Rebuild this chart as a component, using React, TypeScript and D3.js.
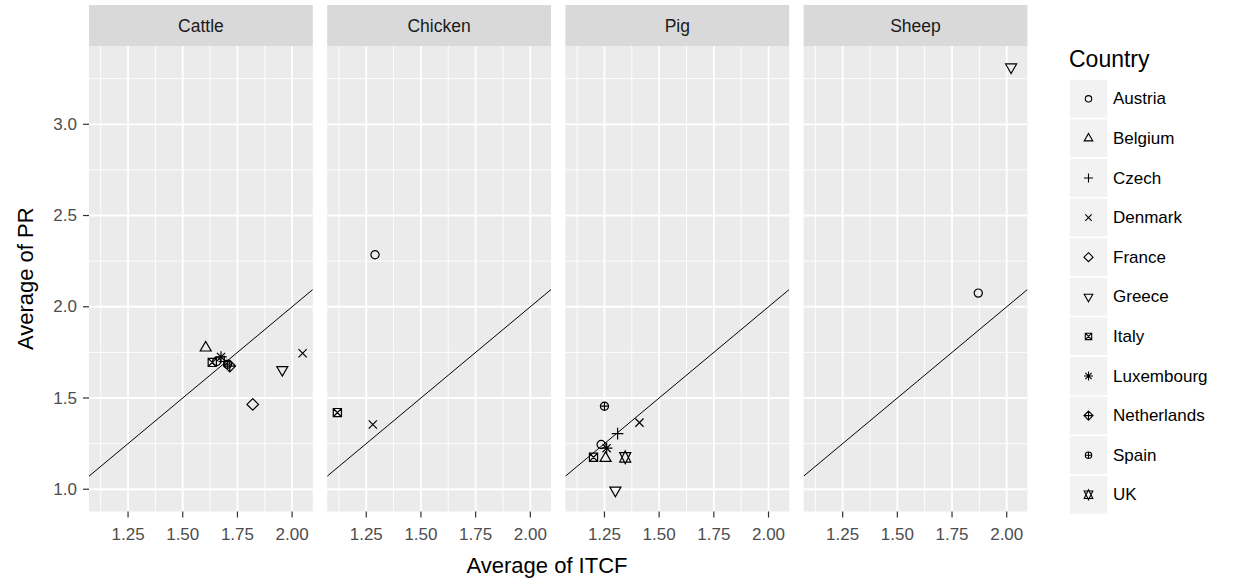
import React from "react";
import * as d3 from "d3";

// facets and legend entries
const animals = ["Cattle", "Chicken", "Pig", "Sheep"];
const countries = ["Austria", "Belgium", "Czech", "Denmark", "France", "Greece", "Italy", "Luxembourg", "Netherlands", "Spain", "UK"];
const countryShapes = [1, 2, 3, 4, 5, 6, 7, 8, 9, 10, 11]; // R pch codes

// values, one set per facet
const cattleCountry = ["Austria", "Belgium", "Czech", "Denmark", "France", "Greece", "Italy", "Luxembourg", "Netherlands", "Spain"];
const cattleITCF = [1.655, 1.605, 1.69, 2.048, 1.82, 1.955, 1.635, 1.675, 1.715, 1.705];
const cattlePR = [1.7, 1.775, 1.7, 1.745, 1.465, 1.655, 1.695, 1.725, 1.675, 1.685];

const chickenCountry = ["Austria", "Denmark", "Italy"];
const chickenITCF = [1.29, 1.28, 1.118];
const chickenPR = [2.285, 1.355, 1.42];

const pigCountry = ["Austria", "Belgium", "Czech", "Denmark", "Greece", "Italy", "Luxembourg", "Spain", "UK"];
const pigITCF = [1.235, 1.255, 1.31, 1.41, 1.3, 1.2, 1.26, 1.25, 1.345];
const pigPR = [1.245, 1.17, 1.305, 1.365, 0.994, 1.175, 1.225, 1.455, 1.175];

const sheepCountry = ["Austria", "Greece"];
const sheepITCF = [1.87, 2.02];
const sheepPR = [2.075, 3.313];

const xTicks = [1.25, 1.5, 1.75, 2.0];
const yTicks = [1.0, 1.5, 2.0, 2.5, 3.0];

type Pt = { animal: string; country: string; x: number; y: number };

const facetData: Record<string, Pt[]> = {
  Cattle: cattleCountry.map((c, i) => ({ animal: "Cattle", country: c, x: cattleITCF[i], y: cattlePR[i] })),
  Chicken: chickenCountry.map((c, i) => ({ animal: "Chicken", country: c, x: chickenITCF[i], y: chickenPR[i] })),
  Pig: pigCountry.map((c, i) => ({ animal: "Pig", country: c, x: pigITCF[i], y: pigPR[i] })),
  Sheep: sheepCountry.map((c, i) => ({ animal: "Sheep", country: c, x: sheepITCF[i], y: sheepPR[i] })),
};
const allPts = animals.flatMap(a => facetData[a]);

// layout
const W = 1242, H = 585;
const PANEL_LEFT = 89, PANEL_W = 223.8, PANEL_GAP = 14.4;
const STRIP_TOP = 5, PANEL_TOP = 46, PANEL_BOTTOM = 511.5;
const FONT = "'Liberation Sans', Arial, sans-serif";
const R = 4.1;

const expand = (ext: [number, number]) => {
  const pad = (ext[1] - ext[0]) * 0.05;
  return [ext[0] - pad, ext[1] + pad];
};
const xDomain = expand(d3.extent(allPts, d => d.x) as [number, number]);
const yDomain = expand(d3.extent(allPts, d => d.y) as [number, number]);

const x = d3.scaleLinear().domain(xDomain).range([0, PANEL_W]);
const y = d3.scaleLinear().domain(yDomain).range([PANEL_BOTTOM, PANEL_TOP]);

const minorOf = (ticks: number[], dom: number[]) => {
  const step = ticks[1] - ticks[0];
  const out: number[] = [];
  for (let v = ticks[0] - step / 2; v <= ticks[ticks.length - 1] + step / 2 + 1e-9; v += step) {
    if (v >= dom[0] && v <= dom[1]) out.push(v);
  }
  return out;
};
const xMinor = minorOf(xTicks, xDomain);
const yMinor = minorOf(yTicks, yDomain);

// R-style point glyphs (pch 1..11) centred on 0,0
function glyph(pch: number, r: number): string {
  const circle = (rr: number) => `M${rr},0A${rr},${rr} 0 1,1 ${-rr},0A${rr},${rr} 0 1,1 ${rr},0Z`;
  const plus = (h: number) => `M${-h},0L${h},0M0,${-h}L0,${h}`;
  const times = (h: number) => `M${-h},${-h}L${h},${h}M${-h},${h}L${h},${-h}`;
  const diamond = (h: number) => `M0,${-h}L${h},0L0,${h}L${-h},0Z`;
  const tr = 1.5551 * r, tyc = 0.7776 * r, txc = 1.3468 * r;
  switch (pch) {
    case 1: return circle(r);
    case 2: return `M0,${-tr}L${txc},${tyc}L${-txc},${tyc}Z`;
    case 3: return plus(Math.SQRT2 * r);
    case 4: return times(r);
    case 5: return diamond(Math.SQRT2 * r);
    case 6: return `M0,${tr}L${txc},${-tyc}L${-txc},${-tyc}Z`;
    case 7: return `M${-r},${-r}H${r}V${r}H${-r}Z` + times(r);
    case 8: return times(r) + plus(Math.SQRT2 * r);
    case 9: return diamond(Math.SQRT2 * r) + plus(Math.SQRT2 * r);
    case 10: return circle(r) + plus(r);
    case 11: {
      const yc = 0.5 * (tyc + tr);
      return `M0,${tr}L${txc},${-yc}L${-txc},${-yc}Z` + `M0,${-tr}L${txc},${yc}L${-txc},${yc}Z`;
    }
    default: return circle(r);
  }
}
const shapeOf = d3.scaleOrdinal<string, number>().domain(countries).range(countryShapes);

const fmtX = d3.format(".2f");
const fmtY = d3.format(".1f");

const Panel = ({ animal, i }: { animal: string; i: number }) => {
  const left = PANEL_LEFT + i * (PANEL_W + PANEL_GAP);
  const pts = facetData[animal];
  // y = x reference line across the panel
  const lx0 = xDomain[0], lx1 = xDomain[1];
  return (
    <g transform={`translate(${left},0)`}>
      <rect x={0} y={STRIP_TOP} width={PANEL_W} height={PANEL_TOP - STRIP_TOP} fill="#D9D9D9" />
      <text x={PANEL_W / 2} y={(STRIP_TOP + PANEL_TOP) / 2} textAnchor="middle" dominantBaseline="central"
        fontSize={17.5} fill="#1A1A1A" fontFamily={FONT}>{animal}</text>
      <rect x={0} y={PANEL_TOP} width={PANEL_W} height={PANEL_BOTTOM - PANEL_TOP} fill="#EBEBEB" />
      <clipPath id={`clip${i}`}>
        <rect x={0} y={PANEL_TOP} width={PANEL_W} height={PANEL_BOTTOM - PANEL_TOP} />
      </clipPath>
      {yMinor.map(v => <line key={"ym" + v} x1={0} x2={PANEL_W} y1={y(v)} y2={y(v)} stroke="#fff" strokeWidth={0.9} />)}
      {xMinor.map(v => <line key={"xm" + v} x1={x(v)} x2={x(v)} y1={PANEL_TOP} y2={PANEL_BOTTOM} stroke="#fff" strokeWidth={0.9} />)}
      {yTicks.map(v => <line key={"y" + v} x1={0} x2={PANEL_W} y1={y(v)} y2={y(v)} stroke="#fff" strokeWidth={1.8} />)}
      {xTicks.map(v => <line key={"x" + v} x1={x(v)} x2={x(v)} y1={PANEL_TOP} y2={PANEL_BOTTOM} stroke="#fff" strokeWidth={1.8} />)}
      <g clipPath={`url(#clip${i})`}>
        <line x1={x(lx0)} y1={y(lx0)} x2={x(lx1)} y2={y(lx1)} stroke="#000" strokeWidth={1} />
        {pts.map(p => (
          <path key={p.country} transform={`translate(${x(p.x)},${y(p.y)})`} d={glyph(shapeOf(p.country), R)}
            fill="none" stroke="#000" strokeWidth={1.2} />
        ))}
      </g>
      {xTicks.map(v => (
        <g key={"xt" + v}>
          <line x1={x(v)} x2={x(v)} y1={PANEL_BOTTOM} y2={PANEL_BOTTOM + 6} stroke="#333" strokeWidth={1.2} />
          <text x={x(v)} y={PANEL_BOTTOM + 28} textAnchor="middle" fontSize={17} fill="#4D4D4D" fontFamily={FONT}>{fmtX(v)}</text>
        </g>
      ))}
    </g>
  );
};

export default function App() {
  const legendX = 1069, keyTop = 79, keyH = 39.6, keyW = 39;
  return (
    <div style={{ position: "absolute", left: 0, top: 0 }}>
      <svg width={W} height={H} style={{ display: "block", background: "#fff" }}>
        {animals.map((a, i) => <Panel key={a} animal={a} i={i} />)}
        {yTicks.map(v => (
          <g key={"yt" + v}>
            <line x1={PANEL_LEFT - 6} x2={PANEL_LEFT} y1={y(v)} y2={y(v)} stroke="#333" strokeWidth={1.2} />
            <text x={PANEL_LEFT - 12} y={y(v)} textAnchor="end" dominantBaseline="central" fontSize={17} fill="#4D4D4D" fontFamily={FONT}>{fmtY(v)}</text>
          </g>
        ))}
        <text x={547} y={573} textAnchor="middle" fontSize={22} fill="#000" fontFamily={FONT}>Average of ITCF</text>
        <text transform={`translate(33,${(PANEL_TOP + PANEL_BOTTOM) / 2}) rotate(-90)`} textAnchor="middle" fontSize={22} fill="#000" fontFamily={FONT}>Average of PR</text>
        {/* legend */}
        <text x={legendX} y={67} fontSize={23} fill="#000" fontFamily={FONT}>Country</text>
        {countries.map((c, k) => {
          const cy = keyTop + k * keyH + keyH / 2;
          return (
            <g key={c}>
              <rect x={legendX} y={keyTop + k * keyH} width={keyW} height={keyH} fill="#F2F2F2" stroke="#fff" strokeWidth={1.5} />
              <path transform={`translate(${legendX + keyW / 2},${cy})`} d={glyph(shapeOf(c), 3.2)} fill="none" stroke="#000" strokeWidth={1.1} />
              <text x={legendX + keyW + 5} y={cy} dominantBaseline="central" fontSize={17} fill="#000" fontFamily={FONT}>{c}</text>
            </g>
          );
        })}
      </svg>
    </div>
  );
}
